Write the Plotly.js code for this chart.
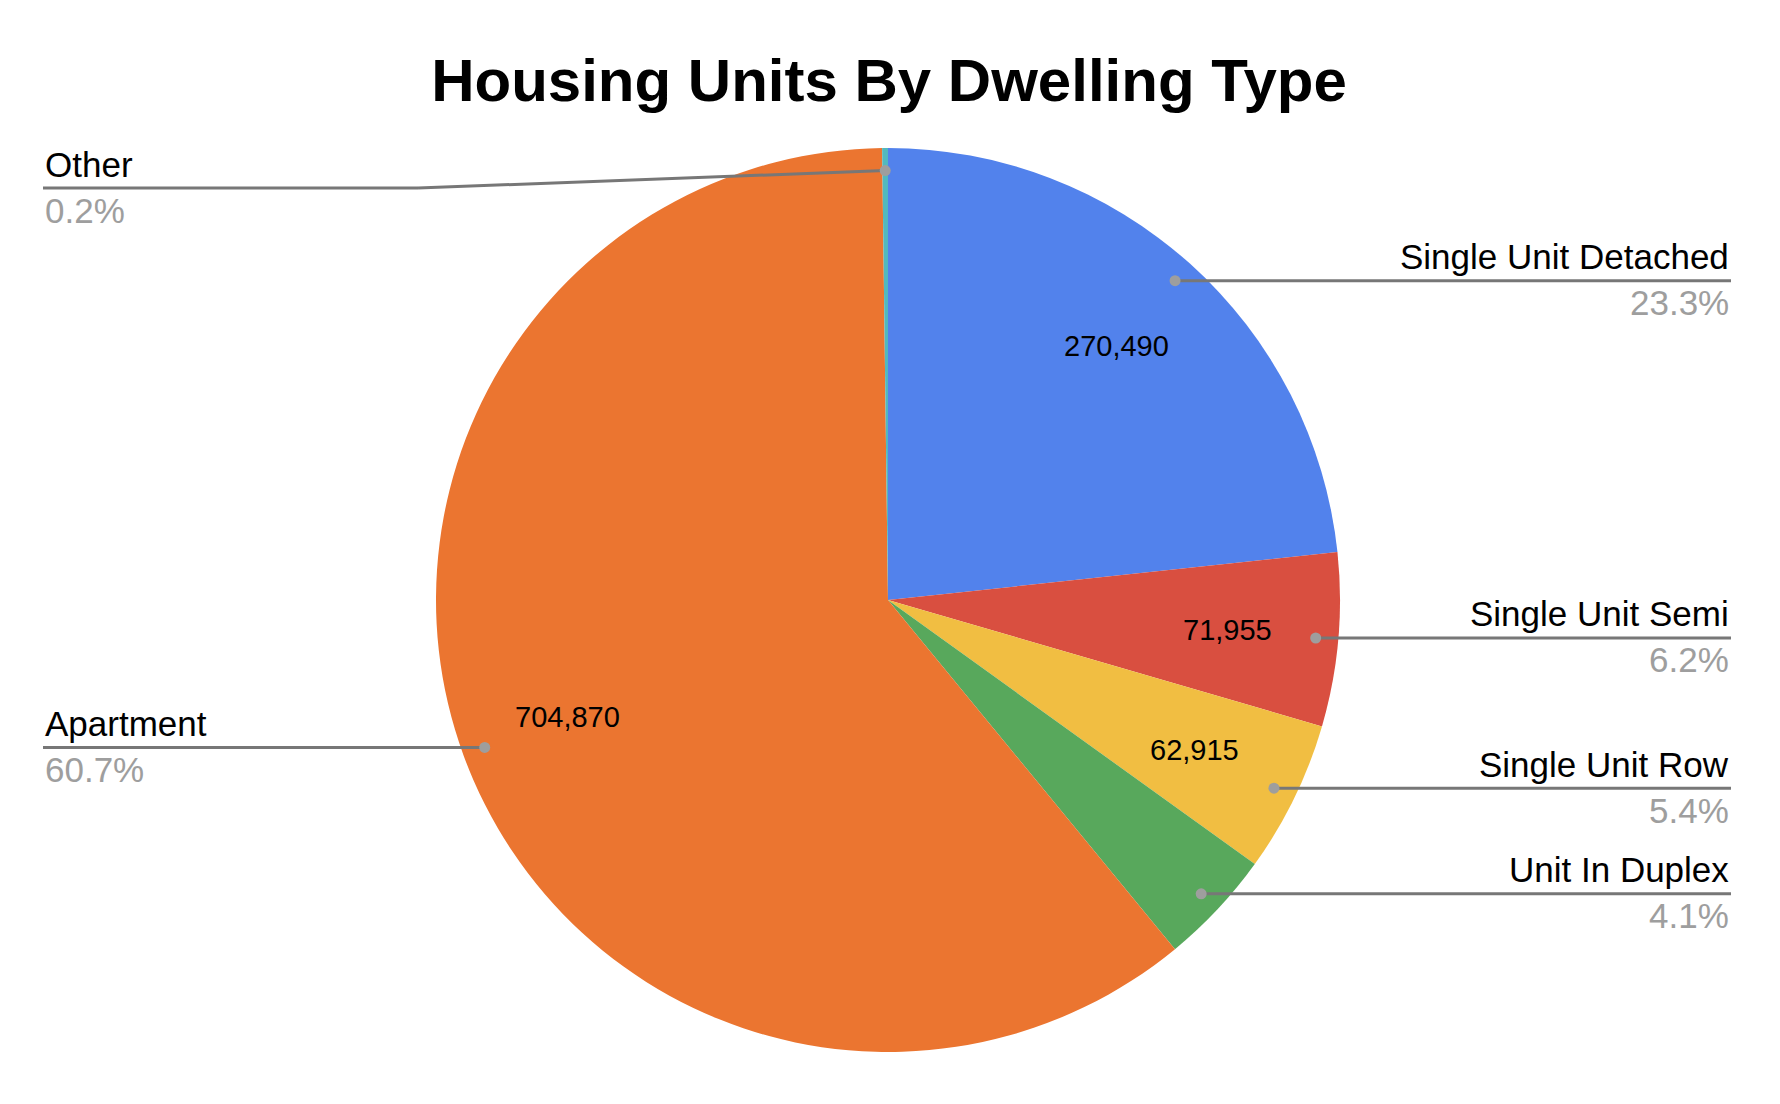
<!DOCTYPE html>
<html>
<head>
<meta charset="utf-8">
<script src="https://cdn.plot.ly/plotly-3.0.1.min.js"></script>
<style>html,body{margin:0;padding:0;background:#fff;}#chart{width:1780px;height:1104px;}</style>
</head>
<body>
<div id="chart"></div>
<script>
// ---- data ----
const categories = ["Single Unit Detached", "Single Unit Semi", "Single Unit Row", "Unit In Duplex", "Apartment", "Other"];
const housingUnits = [270490, 71955, 62915, 47800, 704870, 2400];
const sliceColors = ["#5282EC", "#D94F40", "#F1BE42", "#58A85C", "#EB7530", "#52B9BE"];
const chartTitle = "Housing Units By Dwelling Type";

// ---- layout constants (pixels) ----
const W = 1780, H = 1104;
const CX = 888, CY = 600, R = 452;
const FONT = "Liberation Sans, Arial, Helvetica, sans-serif";
const rightEdge = 1731, leftEdge = 43, minLineY = 188, bendX = 418;
const px = x => x / W;
const py = y => 1 - y / H;

const total = housingUnits.reduce((a, b) => a + b, 0);
const shapes = [];
const annotations = [];
let cum = 0;
housingUnits.forEach((v, i) => {
  const frac = v / total;
  const mid = (cum + frac / 2) * 2 * Math.PI; // clockwise from 12 o'clock
  cum += frac;
  const sx = Math.sin(mid), sy = Math.cos(mid);
  // leader dot
  const dr = 0.95 * R;
  const dx = CX + dr * sx, dy = CY - dr * sy;
  const right = sx > 0;
  const lineY = Math.max(dy, minLineY);
  const endX = right ? rightEdge : leftEdge;
  const lineStyle = {color: "#777777", width: 3};
  if (Math.abs(lineY - dy) > 0.5) {
    shapes.push({type: "line", xref: "paper", yref: "paper", x0: px(endX), y0: py(lineY), x1: px(bendX), y1: py(lineY), line: lineStyle});
    shapes.push({type: "line", xref: "paper", yref: "paper", x0: px(bendX), y0: py(lineY), x1: px(dx), y1: py(dy), line: lineStyle});
  } else {
    shapes.push({type: "line", xref: "paper", yref: "paper", x0: px(endX), y0: py(lineY), x1: px(dx), y1: py(dy), line: lineStyle});
  }
  const dotR = 5.5;
  shapes.push({type: "circle", xref: "paper", yref: "paper", x0: px(dx - dotR), x1: px(dx + dotR), y0: py(dy + dotR), y1: py(dy - dotR), fillcolor: "#9E9E9E", line: {width: 0}});
  // outside label + percent
  annotations.push({xref: "paper", yref: "paper", x: px(endX), y: py(lineY - 24), xanchor: right ? "right" : "left", yanchor: "middle", showarrow: false, text: categories[i], font: {family: FONT, size: 35, color: "#000000"}});
  annotations.push({xref: "paper", yref: "paper", x: px(endX), y: py(lineY + 22), xanchor: right ? "right" : "left", yanchor: "middle", showarrow: false, text: (frac * 100).toFixed(1) + "%", font: {family: FONT, size: 35, color: "#9E9E9E"}});
  // inside value label
  if (frac >= 0.05) {
    const vr = 0.755 * R;
    annotations.push({xref: "paper", yref: "paper", x: px(CX + vr * sx), y: py(CY - vr * sy), xanchor: "center", yanchor: "middle", showarrow: false, text: v.toLocaleString("en-US"), font: {family: FONT, size: 29, color: "#000000"}});
  }
});

const trace = {
  type: "pie",
  labels: categories,
  values: housingUnits,
  sort: false,
  direction: "clockwise",
  rotation: 0,
  textinfo: "none",
  hoverinfo: "label+value+percent",
  marker: {colors: sliceColors, line: {width: 0}},
  domain: {x: [px(CX - R), px(CX + R)], y: [py(CY + R), py(CY - R)]},
  showlegend: false
};

const layout = {
  width: W, height: H,
  margin: {l: 0, r: 0, t: 0, b: 0},
  paper_bgcolor: "#ffffff",
  showlegend: false,
  title: {text: chartTitle, x: px(889), xanchor: "center", y: py(80), yanchor: "middle", yref: "container", xref: "container", font: {family: FONT, size: 60, color: "#000000", weight: "bold"}},
  shapes: shapes,
  annotations: annotations
};

Plotly.newPlot("chart", [trace], layout, {displayModeBar: false, staticPlot: true});
</script>
</body>
</html>
